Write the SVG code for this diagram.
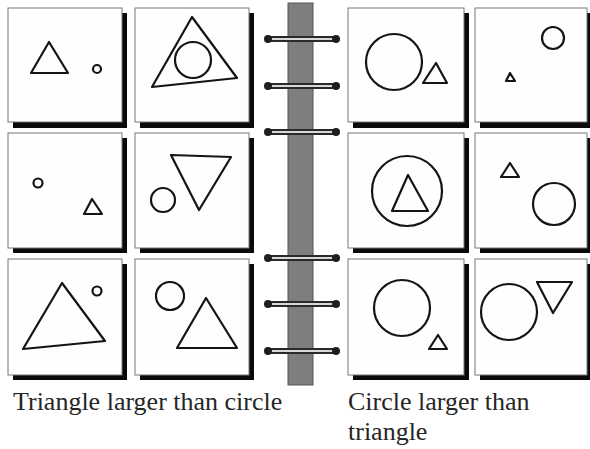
<svg xmlns="http://www.w3.org/2000/svg" width="590" height="449" viewBox="0 0 590 449">
<style>
.sh{fill:#0a0a0a}
.cd{fill:#fefefe;stroke:#777;stroke-width:1}
.s{fill:none;stroke:#141414;stroke-width:2.2;stroke-linejoin:round}
.ring{stroke:#2a2a2a;stroke-width:6;stroke-linecap:round}
.ringc{stroke:#d8d8d8;stroke-width:2}
.end{fill:#1e1e1e}
.lbl{font-family:'Liberation Serif','DejaVu Serif',serif;font-size:26px;fill:#262626}
</style>
<rect width="590" height="449" fill="#ffffff"/>
<g id="spine">
<rect x="288" y="3" width="25" height="382" fill="#7e7e7e" stroke="#555" stroke-width="1"/>
</g>
<g id="rings">
<g><line class="ring" x1="268" y1="39" x2="336" y2="39"/><line class="ringc" x1="270" y1="39" x2="334" y2="39"/><circle class="end" cx="268" cy="39" r="4"/><circle class="end" cx="336" cy="39" r="4"/></g>
<g><line class="ring" x1="268" y1="86" x2="336" y2="86"/><line class="ringc" x1="270" y1="86" x2="334" y2="86"/><circle class="end" cx="268" cy="86" r="4"/><circle class="end" cx="336" cy="86" r="4"/></g>
<g><line class="ring" x1="268" y1="132" x2="336" y2="132"/><line class="ringc" x1="270" y1="132" x2="334" y2="132"/><circle class="end" cx="268" cy="132" r="4"/><circle class="end" cx="336" cy="132" r="4"/></g>
<g><line class="ring" x1="268" y1="258" x2="336" y2="258"/><line class="ringc" x1="270" y1="258" x2="334" y2="258"/><circle class="end" cx="268" cy="258" r="4"/><circle class="end" cx="336" cy="258" r="4"/></g>
<g><line class="ring" x1="268" y1="304" x2="336" y2="304"/><line class="ringc" x1="270" y1="304" x2="334" y2="304"/><circle class="end" cx="268" cy="304" r="4"/><circle class="end" cx="336" cy="304" r="4"/></g>
<g><line class="ring" x1="268" y1="351" x2="336" y2="351"/><line class="ringc" x1="270" y1="351" x2="334" y2="351"/><circle class="end" cx="268" cy="351" r="4"/><circle class="end" cx="336" cy="351" r="4"/></g>
</g>
<g id="card-r1c1">
<rect class="sh" x="13" y="13" width="114" height="115"/>
<rect class="cd" x="8" y="8" width="114" height="114"/>
<polygon class="s" points="49,42 31,73 68,73"/>
<circle class="s" cx="97" cy="69" r="4"/>
</g>
<g id="card-r1c2">
<rect class="sh" x="140" y="13" width="114" height="115"/>
<rect class="cd" x="135" y="8" width="114" height="114"/>
<polygon class="s" points="192,17 152,87 237,78"/>
<circle class="s" cx="193" cy="60" r="18"/>
</g>
<g id="card-r1c3">
<rect class="sh" x="353" y="13" width="116" height="115"/>
<rect class="cd" x="348" y="8" width="116" height="114"/>
<circle class="s" cx="394" cy="62" r="28"/>
<polygon class="s" points="436,63 423,83 447,83"/>
</g>
<g id="card-r1c4">
<rect class="sh" x="480" y="13" width="112" height="115"/>
<rect class="cd" x="475" y="8" width="112" height="114"/>
<circle class="s" cx="553" cy="38" r="11"/>
<polygon class="s" points="510,73 506,81 515,81"/>
</g>
<g id="card-r2c1">
<rect class="sh" x="13" y="138" width="114" height="115"/>
<rect class="cd" x="8" y="133" width="114" height="115"/>
<circle class="s" cx="38" cy="183" r="4.5"/>
<polygon class="s" points="92,199 84,214 102,214"/>
</g>
<g id="card-r2c2">
<rect class="sh" x="140" y="138" width="114" height="115"/>
<rect class="cd" x="135" y="133" width="114" height="115"/>
<polygon class="s" points="171,155 231,157 199,210"/>
<circle class="s" cx="163" cy="200" r="12"/>
</g>
<g id="card-r2c3">
<rect class="sh" x="353" y="138" width="116" height="115"/>
<rect class="cd" x="348" y="133" width="116" height="115"/>
<circle class="s" cx="407" cy="191" r="35"/>
<polygon class="s" points="408,175 392,211 428,211"/>
</g>
<g id="card-r2c4">
<rect class="sh" x="480" y="138" width="112" height="115"/>
<rect class="cd" x="475" y="133" width="112" height="115"/>
<polygon class="s" points="510,163 501,177 519,177"/>
<circle class="s" cx="554" cy="204" r="21"/>
</g>
<g id="card-r3c1">
<rect class="sh" x="13" y="264" width="114" height="116"/>
<rect class="cd" x="8" y="259" width="114" height="116"/>
<polygon class="s" points="62,283 23,349 105,341"/>
<circle class="s" cx="97" cy="291" r="4.5"/>
</g>
<g id="card-r3c2">
<rect class="sh" x="140" y="264" width="114" height="116"/>
<rect class="cd" x="135" y="259" width="114" height="116"/>
<circle class="s" cx="170" cy="296" r="14"/>
<polygon class="s" points="206,298 177,348 237,348"/>
</g>
<g id="card-r3c3">
<rect class="sh" x="353" y="264" width="116" height="116"/>
<rect class="cd" x="348" y="259" width="116" height="116"/>
<circle class="s" cx="402" cy="308" r="28"/>
<polygon class="s" points="438,335 429,349 447,349"/>
</g>
<g id="card-r3c4">
<rect class="sh" x="480" y="264" width="112" height="116"/>
<rect class="cd" x="475" y="259" width="112" height="116"/>
<circle class="s" cx="509" cy="312" r="28"/>
<polygon class="s" points="537,282 572,282 553,313"/>
</g>
<g id="labels">
<text class="lbl" font-family="Liberation Serif, serif" x="13" y="410">Triangle larger than circle</text>
<text class="lbl" font-family="Liberation Serif, serif" x="348" y="410">Circle larger than</text>
<text class="lbl" font-family="Liberation Serif, serif" x="348" y="440">triangle</text>
</g>
</svg>
